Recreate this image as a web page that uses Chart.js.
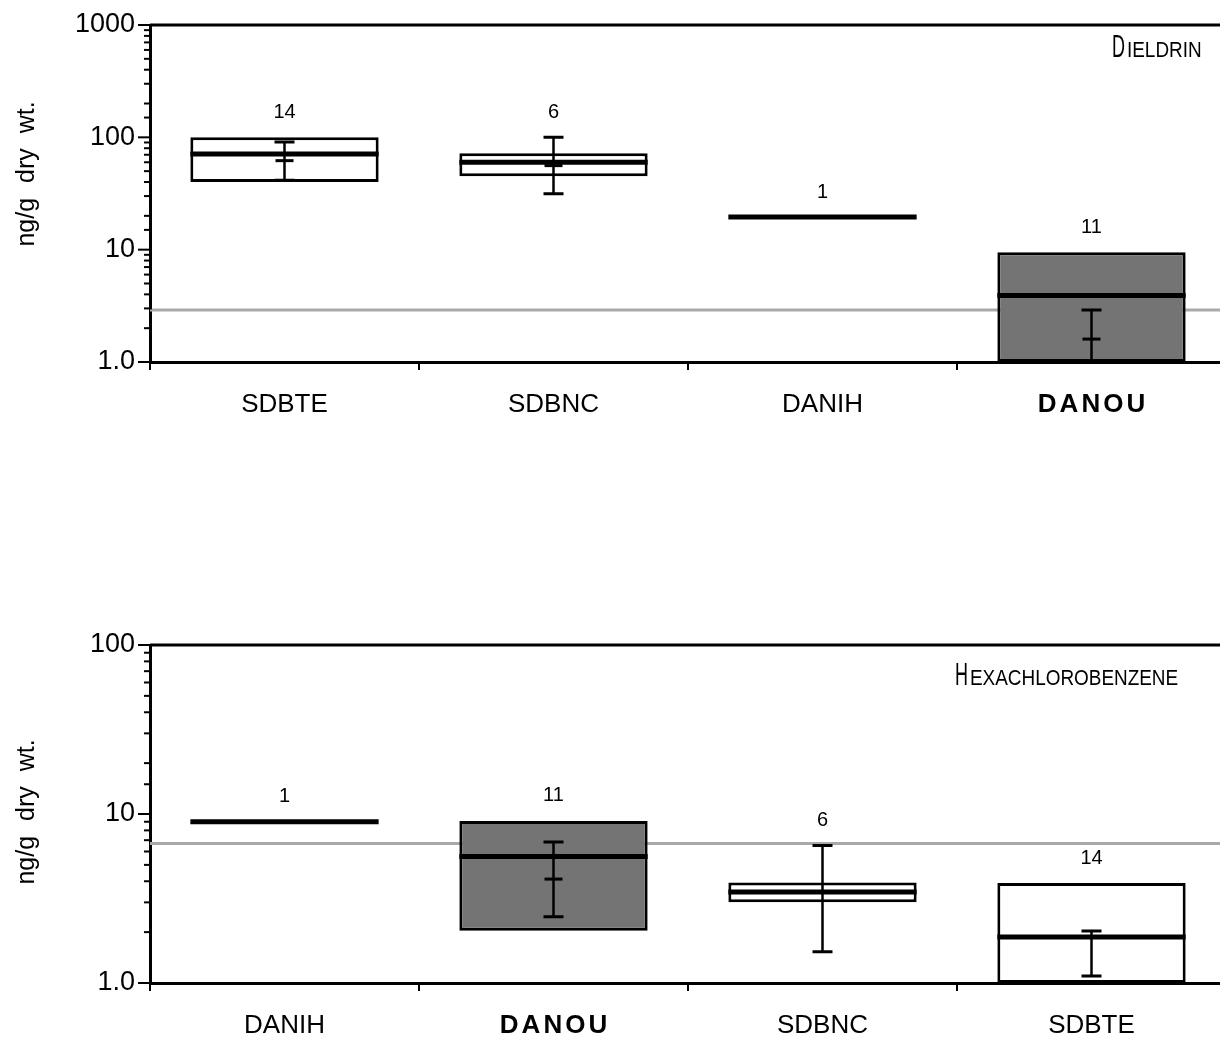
<!DOCTYPE html>
<html>
<head>
<meta charset="utf-8">
<script src="https://cdn.jsdelivr.net/npm/chart.js@4.4.0/dist/chart.umd.min.js"></script>
<style>
  html, body { margin: 0; padding: 0; background: #fff; overflow: hidden; width: 1220px; height: 1041px; }
  canvas { position: absolute; left: 0; }
  #top { top: 0; }
  #bottom { top: 600px; }
</style>
</head>
<body>
<canvas id="top" width="1226" height="440"></canvas>
<canvas id="bottom" width="1226" height="441"></canvas>
<script>
// ---------------- Dieldrin (top panel) ----------------
const catsTop = ['SDBTE', 'SDBNC', 'DANIH', 'DANOU'];
const boxLowTop = [40, 45, null, 1];
const boxHighTop = [100, 72, null, 9.5];
const medianTop = [71, 60, 19.5, 3.9];
const whiskLowTop = [41.5, 31.5, null, 0.85];
const whiskHighTop = [91, 100, null, 2.9];
const meanTop = [62, 56, null, 1.6];
const countsTop = ['14', '6', '1', '11'];
const refTop = 2.9;
const yTicksTop = [1, 10, 100, 1000];

// ---------------- Hexachlorobenzene (bottom panel) ----------------
const catsBot = ['DANIH', 'DANOU', 'SDBNC', 'SDBTE'];
const boxLowBot = [null, 2.04, 3.0, 1];
const boxHighBot = [null, 9.1, 3.93, 3.9];
const medianBot = [9.0, 5.6, 3.45, 1.87];
const whiskLowBot = [null, 2.47, 1.53, 1.1];
const whiskHighBot = [null, 6.83, 6.5, 2.03];
const meanBot = [null, 4.12, null, null];
const countsBot = ['1', '11', '6', '14'];
const refBot = 6.7;
const yTicksBot = [1, 10, 100];

const highlight = 'DANOU';
const FONT = '"Liberation Sans", Arial, sans-serif';
const BAR_PCT = 0.70;

function makeExtras(cfg) {
    return {
        id: 'boxExtras',
        beforeDatasetsDraw(chart) {
            const ctx = chart.ctx, a = chart.chartArea, y = chart.scales.y;
            const py = y.getPixelForValue(cfg.ref);
            ctx.save();
            ctx.strokeStyle = '#a9a9a9';
            ctx.lineWidth = 3;
            ctx.beginPath();
            ctx.moveTo(a.left, py);
            ctx.lineTo(a.right, py);
            ctx.stroke();
            ctx.restore();
        },
        afterDatasetsDraw(chart) {
            const ctx = chart.ctx, a = chart.chartArea;
            const x = chart.scales.x, y = chart.scales.y;
            const halfW = (a.right - a.left) / cfg.cats.length * BAR_PCT / 2;
            ctx.save();
            ctx.beginPath();
            ctx.rect(a.left, a.top, a.right - a.left, a.bottom - a.top);
            ctx.clip();
            ctx.strokeStyle = '#000';
            cfg.cats.forEach((c, i) => {
                const cx = x.getPixelForValue(i);
                // median
                const pm = y.getPixelForValue(cfg.median[i]);
                ctx.lineWidth = 5;
                ctx.beginPath();
                ctx.moveTo(cx - halfW, pm);
                ctx.lineTo(cx + halfW, pm);
                ctx.stroke();
                // whiskers
                if (cfg.wLow[i] != null) {
                    const pl = y.getPixelForValue(cfg.wLow[i]);
                    const ph = y.getPixelForValue(cfg.wHigh[i]);
                    ctx.lineWidth = 2.5;
                    ctx.beginPath();
                    ctx.moveTo(cx, pl);
                    ctx.lineTo(cx, ph);
                    ctx.stroke();
                    ctx.lineWidth = 3;
                    ctx.beginPath();
                    ctx.moveTo(cx - 10, pl); ctx.lineTo(cx + 10, pl);
                    ctx.moveTo(cx - 10, ph); ctx.lineTo(cx + 10, ph);
                    ctx.stroke();
                }
                if (cfg.mean[i] != null) {
                    const pn = y.getPixelForValue(cfg.mean[i]);
                    ctx.lineWidth = 3;
                    ctx.beginPath();
                    ctx.moveTo(cx - 9, pn); ctx.lineTo(cx + 9, pn);
                    ctx.stroke();
                }
            });
            ctx.restore();

            // sample counts above each group
            ctx.save();
            ctx.fillStyle = '#000';
            ctx.font = '20px ' + FONT;
            ctx.textAlign = 'center';
            ctx.textBaseline = 'middle';
            cfg.cats.forEach((c, i) => {
                const vals = [cfg.median[i], cfg.boxHigh[i], cfg.wHigh[i]].filter(v => v != null);
                const top = y.getPixelForValue(Math.max(...vals));
                ctx.fillText(cfg.counts[i], x.getPixelForValue(i), top - 25);
            });
            ctx.restore();
        },
        afterDraw(chart) {
            const ctx = chart.ctx, a = chart.chartArea;
            const x = chart.scales.x, y = chart.scales.y;
            ctx.save();
            ctx.strokeStyle = '#000';
            // top frame line
            ctx.lineWidth = 3;
            ctx.beginPath();
            ctx.moveTo(a.left, a.top);
            ctx.lineTo(a.right, a.top);
            ctx.stroke();
            // y ticks (major and minor)
            ctx.lineWidth = 2;
            y.ticks.forEach(t => {
                const lg = Math.log10(t.value);
                const major = Math.abs(lg - Math.round(lg)) < 1e-9;
                const py = y.getPixelForValue(t.value);
                ctx.beginPath();
                ctx.moveTo(a.left - (major ? 12 : 6), py);
                ctx.lineTo(a.left + (major ? 0 : 2), py);
                ctx.stroke();
            });
            // category labels
            ctx.fillStyle = '#000';
            ctx.textAlign = 'center';
            ctx.textBaseline = 'middle';
            cfg.cats.forEach((c, i) => {
                const bold = c === highlight;
                ctx.font = (bold ? 'bold ' : '') + '26px ' + FONT;
                ctx.letterSpacing = bold ? '3px' : '0px';
                ctx.fillText(c, x.getPixelForValue(i) + (bold ? 1.5 : 0), a.bottom + 43);
            });
            ctx.letterSpacing = '0px';
            // y axis title
            ctx.save();
            ctx.translate(27, cfg.yTitleY);
            ctx.rotate(-Math.PI / 2);
            ctx.font = '25px ' + FONT;
            ctx.wordSpacing = '8px';
            ctx.fillText('ng/g dry wt.', 0, 0);
            ctx.restore();
            // panel title in condensed small caps
            ctx.textAlign = 'left';
            ctx.textBaseline = 'alphabetic';
            const first = cfg.title[0], rest = cfg.title.slice(1);
            ctx.save();
            ctx.translate(cfg.titleX, cfg.titleBase);
            ctx.scale(0.58, 1);
            ctx.font = '31px ' + FONT;
            ctx.fillText(first, 0, 0);
            const w1 = ctx.measureText(first).width * 0.58;
            ctx.restore();
            ctx.save();
            ctx.translate(cfg.titleX + w1 + 2, cfg.titleBase);
            ctx.scale(0.86, 1);
            ctx.font = '22px ' + FONT;
            ctx.fillText(rest, 0, 0);
            ctx.restore();
            ctx.restore();
        }
    };
}

function makeChart(id, cfg) {
    const canvas = document.getElementById(id);
    const H = canvas.height;
    const bars = cfg.boxLow.map((lo, i) => lo == null ? null : [lo, cfg.boxHigh[i]]);
    return new Chart(canvas, {
        type: 'bar',
        data: {
            labels: cfg.cats,
            datasets: [{
                data: bars,
                backgroundColor: cfg.cats.map(c => c === highlight ? '#747474' : '#ffffff'),
                borderColor: '#000',
                borderWidth: 3,
                borderSkipped: false,
                categoryPercentage: 1,
                barPercentage: BAR_PCT
            }]
        },
        options: {
            responsive: false,
            animation: false,
            layout: { padding: { top: cfg.top, left: 0, right: 0, bottom: 0 } },
            plugins: { legend: { display: false }, tooltip: { enabled: false } },
            scales: {
                x: {
                    type: 'category',
                    offset: true,
                    grid: { display: true, drawOnChartArea: false, offset: true, tickLength: 8, color: '#000', lineWidth: 2 },
                    border: { display: true, color: '#000', width: 3 },
                    ticks: { color: 'rgba(0,0,0,0)', font: { size: 12 } },
                    afterFit(s) { s.height = H - cfg.bottom; s.paddingLeft = 0; s.paddingRight = 0; }
                },
                y: {
                    type: 'logarithmic',
                    min: cfg.yTicks[0],
                    max: cfg.yTicks[cfg.yTicks.length - 1],
                    grid: { display: false, drawTicks: false },
                    border: { display: true, color: '#000', width: 3 },
                    ticks: {
                        autoSkip: false,
                        padding: 15,
                        color: '#000',
                        font: { size: 27, family: FONT },
                        callback: v => cfg.yTicks.includes(v) ? (v === 1 ? '1.0' : String(v)) : ''
                    },
                    afterFit(s) { s.width = 150; s.paddingTop = 0; s.paddingBottom = 0; }
                }
            }
        },
        plugins: [makeExtras(cfg)]
    });
}

makeChart('top', {
    cats: catsTop, boxLow: boxLowTop, boxHigh: boxHighTop, median: medianTop,
    wLow: whiskLowTop, wHigh: whiskHighTop, mean: meanTop, counts: countsTop,
    ref: refTop, yTicks: yTicksTop, top: 25, bottom: 362,
    title: 'DIELDRIN', titleX: 1112, titleBase: 57, yTitleY: 174
});

makeChart('bottom', {
    cats: catsBot, boxLow: boxLowBot, boxHigh: boxHighBot, median: medianBot,
    wLow: whiskLowBot, wHigh: whiskHighBot, mean: meanBot, counts: countsBot,
    ref: refBot, yTicks: yTicksBot, top: 45, bottom: 383,
    title: 'HEXACHLOROBENZENE', titleX: 955, titleBase: 85, yTitleY: 212
});
</script>
</body>
</html>
